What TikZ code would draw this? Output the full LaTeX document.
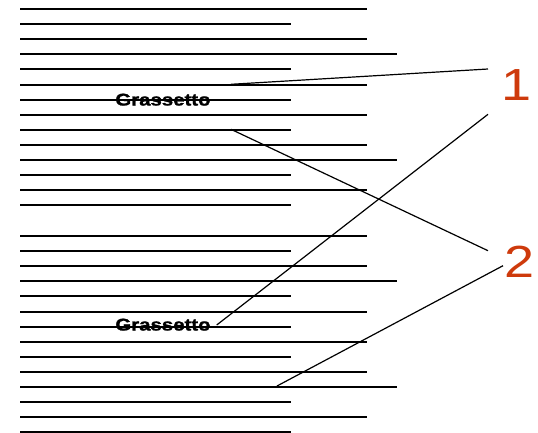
\documentclass[tikz,border=0pt]{standalone}
\usepackage{fontspec}
\setmainfont{Liberation Sans}
\newfontfamily\heavyfont{Liberation Sans}[BoldFeatures={FakeBold=1.2}]
\definecolor{numred}{RGB}{206,58,12}
\tikzset{
  rule/.style={line width=2pt, black},
  conn/.style={line width=1.2pt, black},
  boldlabel/.style={font=\heavyfont\fontsize{17}{17}\selectfont\bfseries, inner sep=0pt, anchor=base, xscale=1.2},
  numlabel/.style={font=\fontsize{45}{45}\selectfont, text=numred, inner sep=0pt, anchor=base, xscale=1.2}
}
\begin{document}
\begin{tikzpicture}[x=1pt,y=-1pt]
\useasboundingbox (0,0) rectangle (538,432);
% text lines, two blocks
\foreach \ybase in {9,236}{
  \foreach \len [count=\i from 0] in {367,291,367,397,291,367,291,367,291,367,397,291,367,291}{
    \draw[rule] (20,\ybase+15.1*\i) -- (\len,\ybase+15.1*\i);
  }
}
% labels
\node[boldlabel] (g1) at (163,105.5) {Grassetto};
\node[boldlabel] (g2) at (163,330.5) {Grassetto};
\node[numlabel] (n1) at (517,100) {1};
\node[numlabel] (n2) at (520,277) {2};
% connector ends
\coordinate (a1) at (231,84.3);
\coordinate (b1) at (231,129.3);
\coordinate (c1) at (216.7,325);
\coordinate (d1) at (277,386);
\coordinate (a2) at (488,69);
\coordinate (b2) at (488,250.7);
\coordinate (c2) at (488,114.3);
\coordinate (d2) at (503,265.7);
\draw[conn] (a1) -- (a2);
\draw[conn] (b1) -- (b2);
\draw[conn] (c1) -- (c2);
\draw[conn] (d1) -- (d2);
\end{tikzpicture}
\end{document}
